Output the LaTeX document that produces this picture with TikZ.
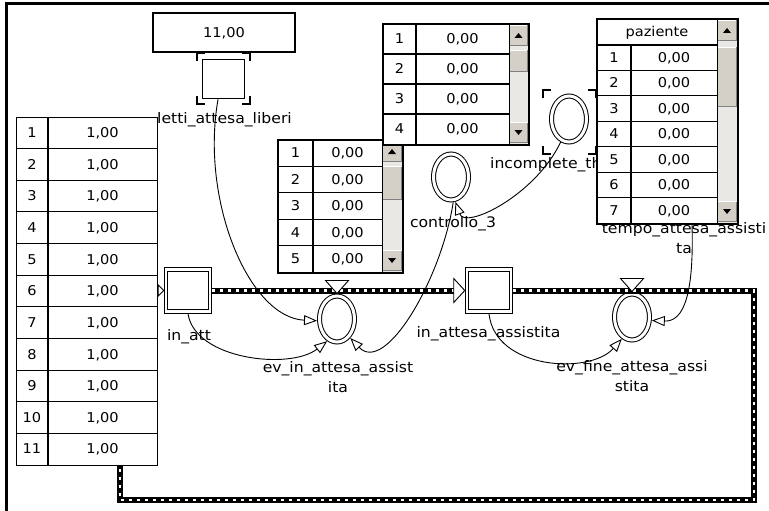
\documentclass[tikz,border=0pt]{standalone}
\usepackage{fontspec}
\setmainfont{DejaVu Sans}[FakeStretch=1.08]
\usetikzlibrary{shapes.geometric,arrows.meta,calc}
\definecolor{btnface}{HTML}{D4D0C8}
\definecolor{sbtrack}{HTML}{EAE8E4}
\definecolor{btnshade}{HTML}{808080}

% raised 3D button face: x-left, y-top, x-right, y-bottom
\newcommand\sbbevel[4]{%
  \fill[btnface] (#1,#2) rectangle (#3,#4);
  \draw[white, line width=1pt] ({#1+0.5},{#4-0.5}) -- ({#1+0.5},{#2+0.5}) -- ({#3-0.5},{#2+0.5});
  \draw[btnshade, line width=1pt] ({#1+0.5},{#4-0.5}) -- ({#3-0.5},{#4-0.5}) -- ({#3-0.5},{#2+0.5});
}
% vertical scroll bar: x-left, x-right, top, bottom, thumb top, thumb bottom
\newcommand\sbar[6]{%
  \fill[sbtrack] (#1,#3) rectangle (#2,#4);
  \sbbevel{#1}{#3+1}{#2}{#3+22}
  \sbbevel{#1}{#5}{#2}{#6}
  \sbbevel{#1}{#4-22}{#2}{#4-1}
  \fill ({(#1+#2)/2},{#3+9}) -- ({(#1+#2)/2-4},{#3+14}) -- ({(#1+#2)/2+4},{#3+14}) -- cycle;
  \fill ({(#1+#2)/2},{#4-9}) -- ({(#1+#2)/2-4},{#4-14}) -- ({(#1+#2)/2+4},{#4-14}) -- cycle;
  \draw[line width=0.8pt] (#1,#3) -- (#1,#4);
}
% selection corner marks: x-left, y-top, x-right, y-bottom
\newcommand\cornerbox[4]{%
  \draw[bracketline] (#1,{#2+8}) -- (#1,#2) -- ({#1+8},#2);
  \draw[bracketline] ({#3-8},#2) -- (#3,#2) -- (#3,{#2+8});
  \draw[bracketline] (#1,{#4-8}) -- (#1,#4) -- ({#1+8},#4);
  \draw[bracketline] ({#3-8},#4) -- (#3,#4) -- (#3,{#4-8});
}

\begin{document}
\begin{tikzpicture}[x=1pt,y=-1pt,
  tablebox/.style={draw, line width=1.1pt, fill=white, inner sep=0pt, anchor=north west},
  rowline/.style={line width=1.1pt},
  celltxt/.style={font=\fontsize{13.5}{15}\selectfont, inner sep=0pt, text height=9.5pt, text depth=0pt},
  lbl/.style={font=\fontsize{14.5}{17}\selectfont, inner sep=0pt, anchor=base},
  stockbox/.style={rectangle, draw, fill=white, line width=1pt, double, double distance=2.5pt,
    minimum width=44pt, minimum height=42pt, inner sep=0pt, outer sep=2.25pt},
  evnode/.style={ellipse, draw, fill=white, line width=1pt, double, double distance=3pt,
    minimum width=35pt, minimum height=46pt, inner sep=0pt, outer sep=2.5pt},
  flowline/.style={line width=6pt, line join=miter,
    postaction={draw=white, line width=2.5pt, dash pattern=on 3pt off 5pt}},
  trig/.style={draw, fill=white, line width=0.9pt, line join=miter},
  link/.style={line width=0.9pt, -{Triangle[length=13pt, width=10pt, fill=white, line width=0.9pt]}},
  bracketline/.style={line width=1.3pt}
]
\useasboundingbox (0,0) rectangle (769,511);
\fill[white] (0,0) rectangle (769,511);

% window frame
\draw[line width=3pt] (6.5,511) -- (6.5,3.5) -- (769,3.5);

% element labels
\node[lbl] (lettilbl) at (224.5,124) {letti\_attesa\_liberi};
\node[lbl] (inattlbl) at (189,340) {in\_att};
\node[lbl] (evinlbl) at (338,372) {ev\_in\_attesa\_assist};
\node[lbl] (evinlblb) at (338,392) {ita};
\node[lbl] (contrlbl) at (453,227) {controllo\_3};
\node[lbl] (inattesalbl) at (488.5,337) {in\_attesa\_assistita};
\node[lbl] (evfinelbl) at (632,371) {ev\_fine\_attesa\_assi};
\node[lbl] (evfinelblb) at (632,391) {stita};
\node[lbl] (tempolbl) at (684,233) {tempo\_attesa\_assisti};
\node[lbl] (tempolblb) at (684,253) {ta};
\node[lbl, anchor=base west] (incompllbl) at (490,168) {incomplete\_th};

% left table: 11 rows
\node[tablebox, minimum width=141pt, minimum height=348pt] (lefttab) at (16,117) {};
\foreach \i in {1,...,10} \draw[rowline] (16,{117+\i*31.636}) -- (157,{117+\i*31.636});
\draw[rowline] (48,117) -- (48,465);
\foreach \i in {1,...,11}{
  \node[celltxt] at (32,{117+(\i-0.5)*31.636}) {\i};
  \node[celltxt] at (102.5,{117+(\i-0.5)*31.636}) {1,00};
}

% middle table: 5 rows with scroll bar
\node[tablebox, minimum width=124pt, minimum height=132pt] (midtab) at (278,140) {};
\foreach \i in {1,...,4} \draw[rowline] (278,{140+\i*26.4}) -- (382,{140+\i*26.4});
\draw[rowline] (313,140) -- (313,272);
\sbar{382}{402}{140}{272}{166}{200}
\draw[line width=1.1pt] (midtab.north west) rectangle (midtab.south east);
\foreach \i in {1,...,5}{
  \node[celltxt] at (295.5,{140+(\i-0.5)*26.4}) {\i};
  \node[celltxt] at (347.5,{140+(\i-0.5)*26.4}) {0,00};
}

% upper table: 4 rows with scroll bar
\node[tablebox, minimum width=145pt, minimum height=120pt] (toptab) at (383,24) {};
\foreach \i in {1,...,3} \draw[rowline] (383,{24+\i*30}) -- (509,{24+\i*30});
\draw[rowline] (416,24) -- (416,144);
\sbar{509}{528}{24}{144}{50}{72}
\draw[line width=1.1pt] (toptab.north west) rectangle (toptab.south east);
\foreach \i in {1,...,4}{
  \node[celltxt] at (399.5,{24+(\i-0.5)*30}) {\i};
  \node[celltxt] at (462.5,{24+(\i-0.5)*30}) {0,00};
}

% paziente table: header and 7 rows with scroll bar
\node[tablebox, minimum width=140pt, minimum height=204pt] (paztab) at (597,19) {};
\draw[rowline] (597,45) -- (717,45);
\foreach \i in {1,...,6} \draw[rowline] (597,{45+\i*25.43}) -- (717,{45+\i*25.43});
\draw[rowline] (631,45) -- (631,223);
\sbar{717}{737}{19}{223}{47}{107}
\draw[line width=1.1pt] (paztab.north west) rectangle (paztab.south east);
\node[celltxt] (pazhead) at (657,32) {paziente};
\foreach \i in {1,...,7}{
  \node[celltxt] at (614,{45+(\i-0.5)*25.43}) {\i};
  \node[celltxt] at (674,{45+(\i-0.5)*25.43}) {0,00};
}

% value display of letti_attesa_liberi
\node[draw, line width=1.1pt, minimum width=142pt, minimum height=39pt, celltxt] (lettival) at (224,32.5) {11,00};

% model elements
\node[draw, fill=white, line width=1.6pt, minimum width=42pt, minimum height=39pt, inner sep=0pt] (lettisq) at (223.5,79) {};
\node[stockbox] (inatt) at (188,290.5) {};
\node[stockbox] (inattesa) at (489,290.5) {};
\node[evnode] (evin) at (337,319) {};
\node[evnode] (evfine) at (632,317) {};
\node[evnode] (contr) at (451,177) {};
\node[evnode] (incompl) at (569,119) {};
\cornerbox{197}{53}{250}{104}
\cornerbox{543}{90}{596}{154}

% patient flow loop
\coordinate (loopne) at (754,290.5);
\coordinate (loopse) at (754,500);
\coordinate (loopsw) at (120,500);
\draw[flowline] (inatt.east) -- ($(inattesa.west)+(-11,0)$);
\draw[flowline] (inattesa.east) -- (loopne) -- (loopse) -- (loopsw) -- (loopsw |- lefttab.south);

% flow inlets and event triggers
\draw[trig] ($(inattesa.west)+(-11,-12)$) -- (inattesa.west) -- ($(inattesa.west)+(-11,12)$) -- cycle;
\draw[trig] ($(inatt.west)+(-5.5,-5.5)$) -- (inatt.west) -- ($(inatt.west)+(-5.5,5.5)$) -- cycle;
\draw[trig] ($(evin.north)+(-11.5,-13)$) -- (evin.north) -- ($(evin.north)+(11.5,-13)$) -- cycle;
\draw[trig] ($(evfine.north)+(-11.5,-13)$) -- (evfine.north) -- ($(evfine.north)+(11.5,-13)$) -- cycle;

% information links
\draw[link] (lettisq.255) .. controls +(-18,101) and +(-68,-3) .. (evin.185);
\draw[link] (inatt.south) .. controls +(7,46) and +(-37,29) .. (evin.246);
\draw[link] (contr.275) .. controls +(-12,77) and +(35,37) .. (evin.305);
\draw[link] (incompl.250) .. controls +(-25,53) and +(10,28) .. (contr.280);
\draw[link] (inattesa.south) .. controls +(6,56) and +(-32,36) .. (evfine.245);
\draw[link] ($(paztab.south west)+(95,0)$) .. controls +(2,67) and +(33,1.5) .. (evfine.350);
\end{tikzpicture}
\end{document}
